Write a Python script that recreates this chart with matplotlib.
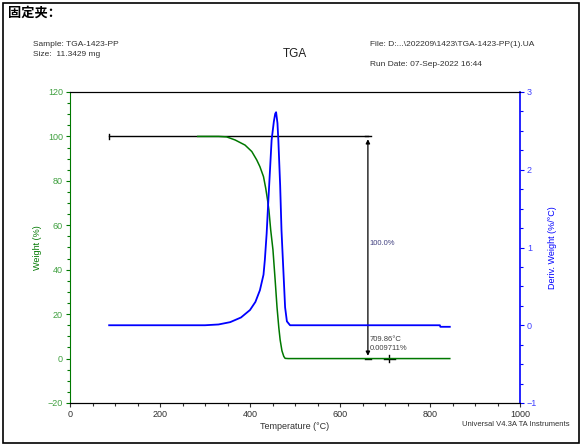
import matplotlib
matplotlib.use("Agg")
import matplotlib.pyplot as plt
from matplotlib.ticker import MultipleLocator
from matplotlib.patches import Rectangle

plt.rcParams['font.family'] = ['Liberation Sans', 'DejaVu Sans']

# weight curve (%)
temp_w = [284, 330, 348, 367, 389, 404, 415, 422, 430, 435, 439, 442, 446, 451, 456, 460, 464, 467, 471, 475, 478, 485, 550, 650, 750, 844]
weight = [100, 100, 99.8, 98.4, 96.1, 93.2, 89.4, 86.4, 81.9, 76.6, 71.4, 66.9, 57.9, 49, 35, 23.2, 14, 8.4, 3.5, 1.0, 0.1, 0.0, 0.0, 0.0, 0.0, 0.0]

# derivative curve (%/°C)
temp_d = [87, 200, 300, 330, 356, 380, 400, 412, 422, 430, 433, 437, 440, 444, 448, 453, 456, 458, 461, 463, 467, 470, 472, 475, 478, 482, 489, 600, 822, 823, 844]
deriv = [0.0, 0.0, 0.0, 0.01, 0.04, 0.1, 0.196, 0.3, 0.45, 0.65, 0.84, 1.18, 1.52, 1.95, 2.38, 2.62, 2.72, 2.74, 2.6, 2.38, 1.8, 1.22, 0.97, 0.6, 0.23, 0.05, 0.0, 0.0, 0.0, -0.02, -0.02]

# step annotation
step_start = 87
step_x = 662
step_top = 100
step_bot = 0.0
cursor_t = 709.86
cursor_w = 0.009711

fig = plt.figure(figsize=(5.83, 4.46), dpi=100)
ax = fig.add_axes([70 / 583, 43 / 446, 450 / 583, 311 / 446])
ax2 = ax.twinx()

green = '#007800'
blue = '#0000ff'

ax.plot(temp_w, weight, color=green, lw=1.1, zorder=3)
ax2.plot(temp_d, deriv, color=blue, lw=1.3, zorder=3)

# step lines
ax.plot([step_start, step_x], [step_top, step_top], color='black', lw=1.0)
ax.plot([step_start, step_start], [step_top - 1.2, step_top + 1.2], color='black', lw=1.0)
ax.annotate('', xy=(step_x, step_bot), xytext=(step_x, step_top),
            arrowprops=dict(arrowstyle='<|-|>', color='black', lw=0.9, mutation_scale=6))
ax.plot([step_x - 6, step_x + 6], [step_bot, step_bot], color='black', lw=1.0)
ax.plot([step_x - 6, step_x + 6], [step_top, step_top], color='black', lw=1.0)
ax.plot([cursor_t - 12, cursor_t + 12], [cursor_w, cursor_w], color='black', lw=1.0)
ax.plot([cursor_t, cursor_t], [cursor_w - 1.5, cursor_w + 1.5], color='black', lw=1.0)
ax.text(step_x + 3, 52, '100.0%', fontsize=5.5, color='#404080', va='center')
ax.text(step_x + 3, 8.5, '709.86°C', fontsize=5.5, color='#404040', va='center')
ax.text(step_x + 3, 4.4, '0.009711%', fontsize=5.5, color='#404040', va='center')

ax.set_xlim(0, 1000)
ax.set_ylim(-20, 120)
ax2.set_ylim(-1, 3)

ax.xaxis.set_major_locator(MultipleLocator(200))
ax.xaxis.set_minor_locator(MultipleLocator(50))
ax.yaxis.set_major_locator(MultipleLocator(20))
ax.yaxis.set_minor_locator(MultipleLocator(5))
ax2.yaxis.set_major_locator(MultipleLocator(1))
ax2.yaxis.set_minor_locator(MultipleLocator(0.25))

ax.tick_params(axis='x', which='major', length=3, width=0.8, labelsize=6.5, colors='#303030', pad=2)
ax.tick_params(axis='x', which='minor', length=2.5, width=0.8, color='#303030')
ax.tick_params(axis='y', which='major', length=3, width=0.8, labelsize=6.5, color=green, labelcolor='#40a040', pad=2)
ax.tick_params(axis='y', which='minor', length=2.5, width=0.8, color=green)
ax2.tick_params(axis='y', which='major', length=3, width=0.8, labelsize=6.5, color=blue, labelcolor='#4040ff', pad=2)
ax2.tick_params(axis='y', which='minor', length=2.5, width=0.8, color=blue)

ax.spines['left'].set_color(green)
ax2.spines['left'].set_visible(False)
ax2.spines['right'].set_color(blue)
ax2.spines['right'].set_linewidth(1.2)
ax.spines['right'].set_visible(False)

ax.set_xlabel('Temperature (°C)', fontsize=6.5, color='#303030', labelpad=2)
ax.set_ylabel('Weight (%)', fontsize=6.5, color=green, labelpad=4)
ax2.set_ylabel('Deriv. Weight (%/°C)', fontsize=6.5, color=blue, labelpad=8)

# header texts
fig.text(33 / 583, 1 - 45 / 446, 'Sample: TGA-1423-PP', fontsize=6, color='#303030', va='center')
fig.text(33 / 583, 1 - 55 / 446, 'Size:  11.3429 mg', fontsize=6, color='#303030', va='center')
fig.text(295 / 583, 1 - 54 / 446, 'TGA', fontsize=8.5, color='#202020', ha='center', va='center')
fig.text(370 / 583, 1 - 45 / 446, 'File: D:...\\202209\\1423\\TGA-1423-PP(1).UA', fontsize=6, color='#303030', va='center')
fig.text(370 / 583, 1 - 64 / 446, 'Run Date: 07-Sep-2022 16:44', fontsize=6, color='#303030', va='center')
fig.text(570 / 583, 1 - 425 / 446, 'Universal V4.3A TA Instruments', fontsize=5.5, color='#303030', ha='right', va='center')
fig.text(8 / 583, 1 - 13 / 446, '固定夹：', fontsize=9.5, fontweight='bold',
         family=['Noto Sans CJK SC', 'DejaVu Sans'], va='center')

fig.patches.append(Rectangle((3 / 583, 1 - 443 / 446), 576 / 583, 440 / 446,
                             transform=fig.transFigure, fill=False, edgecolor='black', lw=1.2))

fig.savefig('out.png', dpi=100)
